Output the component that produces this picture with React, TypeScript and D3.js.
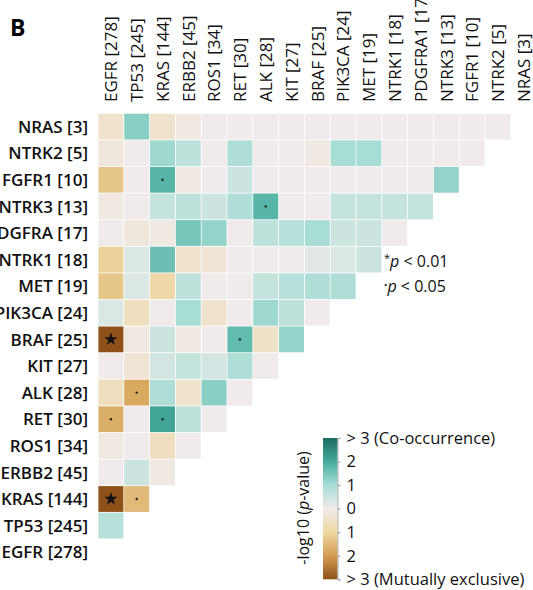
import React, { useEffect, useRef } from "react";
import * as d3 from "d3";

// Genes on the column axis (left to right) with sample counts
const colGenes = [
  "EGFR [278]", "TP53 [245]", "KRAS [144]", "ERBB2 [45]", "ROS1 [34]", "RET [30]",
  "ALK [28]", "KIT [27]", "BRAF [25]", "PIK3CA [24]", "MET [19]", "NTRK1 [18]",
  "PDGFRA1 [17]", "NTRK3 [13]", "FGFR1 [10]", "NTRK2 [5]", "NRAS [3]",
];

// Genes on the row axis (top to bottom)
const rowGenes = [
  "NRAS [3]", "NTRK2 [5]", "FGFR1 [10]", "NTRK3 [13]", "PDGFRA [17]", "NTRK1 [18]",
  "MET [19]", "PIK3CA [24]", "BRAF [25]", "KIT [27]", "ALK [28]", "RET [30]",
  "ROS1 [34]", "ERBB2 [45]", "KRAS [144]", "TP53 [245]", "EGFR [278]",
];

// Signed -log10(p): positive = co-occurrence, negative = mutual exclusivity.
// Row i holds the pairs with the first (16 - i) column genes.
const logP = [
  [-0.4, 1.3, -0.4, -0.1, 0, 0, 0, 0, 0, 0, 0, 0, 0, 0, 0, 0],
  [-0.2, 0, 1.1, 0.7, 0, 0.9, 0, 0, -0.1, 1.0, 1.0, 0, 0, 0, 0],
  [-1.3, 0, 1.8, -0.1, 0, 0.5, 0, 0, 0, 0, 0, 0, 0, 1.2],
  [-0.1, 0, 0.6, 0.7, 0.5, 0.9, 1.8, 0, 0, 0.6, 0.6, 0.6, 0.6],
  [0, -0.2, -0.1, 1.5, 1.2, 0, 0.7, 0.8, 1.0, 0.5, 0.5, 0],
  [-1.1, 0.3, 1.6, -0.4, -0.3, 0, 0, 0, 0.2, 0.3, 0.5],
  [-1.3, 0.3, -0.9, 0.7, 0, 0, 0.6, 0.8, 0.9, 0.9],
  [0.3, -0.6, 0, 1.0, -0.4, 0, 1.1, 0.7, 0],
  [-3.2, -0.1, 0.5, -0.1, 0, 1.7, -0.5, 1.2],
  [0, -0.3, 0.4, 0.6, 0.4, 0.9, 0],
  [-0.6, -1.8, 0.9, -0.4, 1.3, 0],
  [-1.7, 0, 2.1, 0.7, 0],
  [-0.1, 0, -0.6, 0],
  [0, 0.5, -0.1],
  [-3.2, -1.5],
  [0.8],
  [],
];

// Significance marks: [row gene index, column gene index, level]
const sigMarks: [number, number, "star" | "dot"][] = [
  [2, 2, "dot"],
  [3, 6, "dot"],
  [8, 0, "star"],
  [8, 5, "dot"],
  [10, 1, "dot"],
  [11, 0, "dot"],
  [11, 2, "dot"],
  [14, 0, "star"],
  [14, 1, "dot"],
];

// Colour-bar tick labels from +3 down to -3
const barTicks = [3, 2, 1, 0, -1, -2, -3];
const barTickLabels = ["> 3 (Co-occurrence)", "2", "1", "0", "1", "2", "> 3 (Mutually exclusive)"];

const colorStops = [
  "#8e5218", "#d39d52", "#efd7a2", "#f0ebea", "#a8ddd5", "#45ab9d", "#1c6b60",
];

const FONT = "'Open Sans', 'Noto Sans', sans-serif";

export default function App() {
  const ref = useRef<SVGSVGElement>(null);

  useEffect(() => {
    const svg = d3.select(ref.current);
    svg.selectAll("*").remove();

    const x = d3.scaleBand<string>().domain(colGenes).range([98, 98 + 17 * 25.8]);
    const y = d3.scaleBand<string>().domain(rowGenes).range([113.3, 113.3 + 17 * 26.6]);
    const color = d3
      .scaleLinear<string>()
      .domain([-3, -2, -1, 0, 1, 2, 3])
      .range(colorStops)
      .interpolate(d3.interpolateRgb)
      .clamp(true);

    // Panel letter
    svg.append("text")
      .attr("x", 10).attr("y", 36)
      .attr("font-family", FONT).attr("font-weight", 700).attr("font-size", 23)
      .text("B");

    // Heatmap cells
    const cells = logP.flatMap((row, ri) =>
      row.map((v, ci) => ({ r: rowGenes[ri], c: colGenes[ci], v }))
    );
    svg.append("g").selectAll("rect").data(cells).join("rect")
      .attr("x", (d) => x(d.c)! + 0.4)
      .attr("y", (d) => y(d.r)! + 0.4)
      .attr("width", x.bandwidth() - 0.8)
      .attr("height", y.bandwidth() - 0.8)
      .attr("fill", (d) => color(d.v));

    // Significance marks
    const marks = svg.append("g");
    sigMarks.forEach(([ri, ci, kind]) => {
      const cx = x(colGenes[ci])! + x.bandwidth() / 2;
      const cy = y(rowGenes[ri])! + y.bandwidth() / 2;
      if (kind === "star") {
        marks.append("path")
          .attr("d", d3.symbol().type(d3.symbolStar).size(55)())
          .attr("transform", `translate(${cx},${cy})`)
          .attr("fill", "#111");
      } else {
        marks.append("circle").attr("cx", cx).attr("cy", cy).attr("r", 1.2).attr("fill", "#222");
      }
    });

    // Column labels
    svg.append("g").selectAll("text").data(colGenes).join("text")
      .attr("transform", (d) => `translate(${x(d)! + x.bandwidth() / 2 + 6.3},102) rotate(-90)`)
      .attr("font-family", FONT).attr("font-size", 17).attr("fill", "#111")
      .text((d) => d);

    // Row labels
    svg.append("g").selectAll("text").data(rowGenes).join("text")
      .attr("x", 88)
      .attr("y", (d) => y(d)! + y.bandwidth() / 2)
      .attr("dy", "0.36em")
      .attr("text-anchor", "end")
      .attr("font-family", FONT).attr("font-weight", 600).attr("font-size", 17).attr("fill", "#111")
      .text((d) => d);

    // Significance legend
    const sig = svg.append("g").attr("font-family", FONT).attr("font-size", 16).attr("fill", "#111");
    const l1 = sig.append("text").attr("x", 384).attr("y", 267);
    l1.append("tspan").attr("font-size", 11).attr("dy", -5).text("*");
    l1.append("tspan").attr("font-style", "italic").attr("dy", 5).text("p");
    l1.append("tspan").text(" < 0.01");
    const l2 = sig.append("text").attr("x", 384).attr("y", 292);
    l2.append("tspan").attr("font-weight", 700).attr("dy", -3).attr("font-size", 12).text("·");
    l2.append("tspan").attr("font-style", "italic").attr("dy", 3).text("p");
    l2.append("tspan").text(" < 0.05");

    // Colour bar
    const barX = 323, barW = 14.5;
    const by = d3.scaleLinear().domain([-3, 3]).range([579.3, 438]);
    const defs = svg.append("defs");
    const grad = defs.append("linearGradient").attr("id", "bar-grad")
      .attr("x1", 0).attr("x2", 0).attr("y1", 1).attr("y2", 0);
    colorStops.forEach((c, i) => {
      grad.append("stop").attr("offset", `${(i / (colorStops.length - 1)) * 100}%`).attr("stop-color", c);
    });
    svg.append("rect")
      .attr("x", barX).attr("y", by(3)).attr("width", barW).attr("height", by(-3) - by(3))
      .attr("fill", "url(#bar-grad)");

    const axis = d3.axisRight(by)
      .tickValues(barTicks)
      .tickSize(3)
      .tickPadding(6)
      .tickFormat((d, i) => barTickLabels[i]);
    const ax = svg.append("g").attr("transform", `translate(${barX + barW},0)`).call(axis);
    ax.select(".domain").attr("stroke", "#999").attr("stroke-width", 0.8);
    ax.selectAll(".tick line").attr("stroke", "#999");
    ax.selectAll(".tick text")
      .attr("font-family", FONT).attr("font-size", 16.5).attr("fill", "#111");

    // Colour-bar title
    const title = svg.append("text")
      .attr("transform", `translate(309,508) rotate(-90)`)
      .attr("text-anchor", "middle")
      .attr("font-family", FONT).attr("font-size", 16).attr("fill", "#111");
    title.append("tspan").text("-log10 (");
    title.append("tspan").attr("font-style", "italic").text("p");
    title.append("tspan").text("-value)");
  }, []);

  return (
    <svg
      ref={ref}
      width={533}
      height={590}
      style={{ position: "absolute", left: 0, top: 0, background: "#fff" }}
    />
  );
}
